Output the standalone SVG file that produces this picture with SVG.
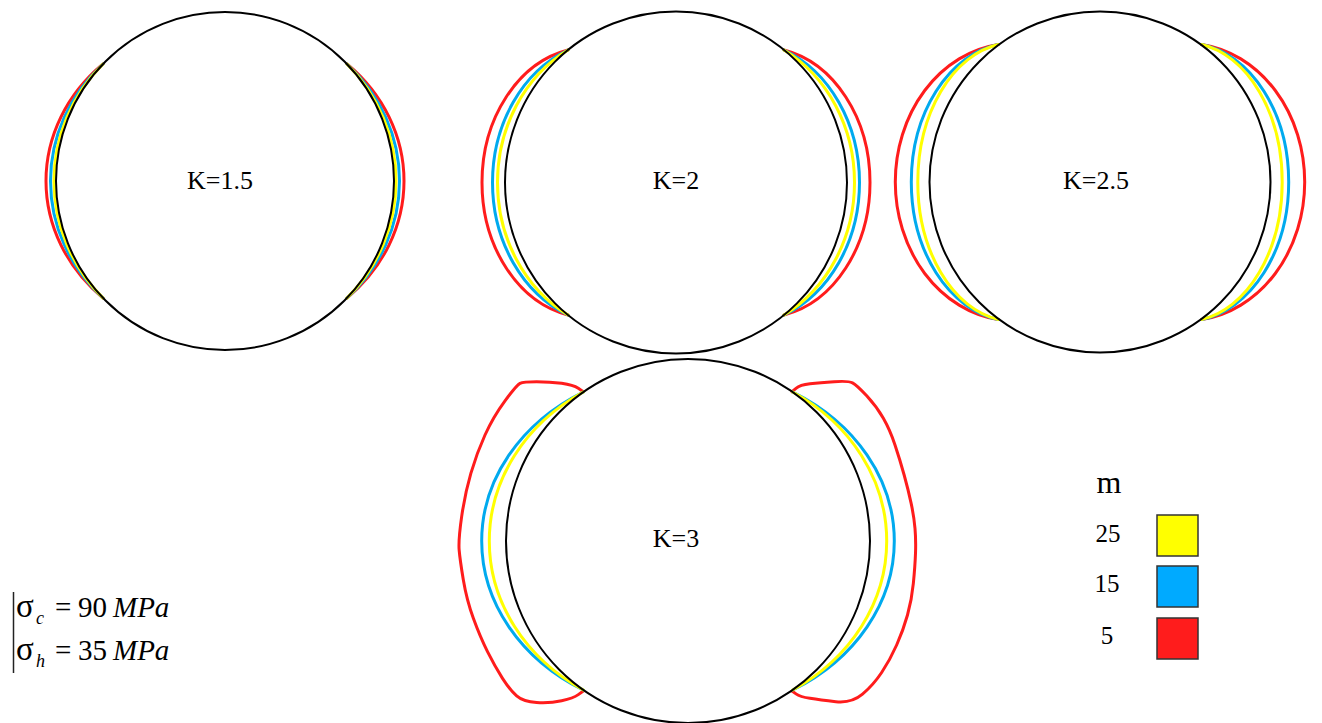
<svg xmlns="http://www.w3.org/2000/svg" width="1322" height="723" viewBox="0 0 1322 723">
<style>
.circ{fill:none;stroke:#000;stroke-width:2}
.r{fill:none;stroke:#FF1C1C;stroke-width:3;stroke-linejoin:round;stroke-linecap:round}
.b{fill:none;stroke:#00AAEE;stroke-width:3;stroke-linecap:round}
.y{fill:none;stroke:#FFFF00;stroke-width:3;stroke-linecap:round}
.lbl{font-family:"Liberation Serif","Times New Roman",serif;font-size:26px;fill:#000;text-anchor:middle}
.leg{font-family:"Liberation Serif","Times New Roman",serif;font-size:25px;fill:#000;text-anchor:middle}
.eq{font-family:"Liberation Serif","Times New Roman",serif;font-size:29px;fill:#000}
.sig{font-family:"Liberation Serif","Times New Roman",serif;font-size:33px;fill:#000}
.sub{font-family:"Liberation Serif","Times New Roman",serif;font-size:18px;font-style:italic;fill:#000}
.box{stroke:#333;stroke-width:1.5}
</style>
<rect x="0" y="0" width="1322" height="723" fill="#fff"/>

<g id="node-k15">
<path class="r" d="M103,64 A179,159.9 0 0 0 46,181 A179,159.9 0 0 0 103,298"/>
<path class="b" d="M103,64 A174.5,163.6 0 0 0 50.5,181 A174.5,163.6 0 0 0 103,298"/>
<path class="y" d="M103,64 A171,167 0 0 0 54,181 A171,167 0 0 0 103,298"/>
<path class="r" d="M347,64 A179,159.9 0 0 1 404,181 A179,159.9 0 0 1 347,298"/>
<path class="b" d="M347,64 A174.5,163.6 0 0 1 399.5,181 A174.5,163.6 0 0 1 347,298"/>
<path class="y" d="M347,64 A171,167 0 0 1 396,181 A171,167 0 0 1 347,298"/>
<circle class="circ" cx="225" cy="181" r="169"/>
<text class="lbl" x="220" y="189">K=1.5</text>
</g>

<g id="node-k2">
<path class="r" d="M568,50 A107.6,135.2 0 0 0 482,182.5 A107.6,135.2 0 0 0 568,315"/>
<path class="b" d="M568,50 A118.7,142.3 0 0 0 492.5,182.5 A118.7,142.3 0 0 0 568,315"/>
<path class="y" d="M568,50 A135.3,150.9 0 0 0 497.5,182.5 A135.3,150.9 0 0 0 568,315"/>
<path class="r" d="M784,50 A107.6,135.2 0 0 1 870,182.5 A107.6,135.2 0 0 1 784,315"/>
<path class="b" d="M784,50 A118.7,142.3 0 0 1 859.5,182.5 A118.7,142.3 0 0 1 784,315"/>
<path class="y" d="M784,50 A135.3,150.9 0 0 1 854.5,182.5 A135.3,150.9 0 0 1 784,315"/>
<circle class="circ" cx="676" cy="182.5" r="171"/>
<text class="lbl" x="676" y="189">K=2</text>
</g>

<g id="node-k25">
<path class="r" d="M998.3,44.5 A118.3,138.7 0 0 0 895.3,182 A118.3,138.7 0 0 0 998.3,319.5"/>
<path class="b" d="M998.3,44.5 A102.3,139.1 0 0 0 911.3,182 A102.3,139.1 0 0 0 998.3,319.5"/>
<path class="y" d="M998.3,44.5 A95.8,139.3 0 0 0 917.8,182 A95.8,139.3 0 0 0 998.3,319.5"/>
<path class="r" d="M1201.7,44.5 A118.3,138.7 0 0 1 1304.7,182 A118.3,138.7 0 0 1 1201.7,319.5"/>
<path class="b" d="M1201.7,44.5 A102.3,139.1 0 0 1 1288.7,182 A102.3,139.1 0 0 1 1201.7,319.5"/>
<path class="y" d="M1201.7,44.5 A95.8,139.3 0 0 1 1282.2,182 A95.8,139.3 0 0 1 1201.7,319.5"/>
<circle class="circ" cx="1100" cy="182" r="170.5"/>
<text class="lbl" x="1096" y="189">K=2.5</text>
</g>

<g id="node-k3">
<path class="r" d="M583.3,391.7 L578.3,388.35 Q573.3,385 561.65,383.35 Q550,381.7 536.65,381.7 Q523.3,381.7 520,383.35 Q516.7,385 505,400.85 Q493.3,416.7 485,435 Q476.7,453.3 470.85,473.3 Q465,493.3 461.65,516.65 Q458.3,540 459.15,550 Q460,560 463.35,580 Q466.7,600 473.35,618.35 Q480,636.7 487.5,651.7 Q495,666.7 502.5,678.35 Q510,690 516.65,695.85 Q523.3,701.7 536.65,702.5 Q550,703.3 561.65,700.8 Q573.3,698.3 578.3,694.65 L583.3,691"/>
<path class="b" d="M583.3,392 A206.3,172.9 0 0 0 481.7,541 A206.3,172.9 0 0 0 583.3,690"/>
<path class="y" d="M583.3,392 A198.7,175.3 0 0 0 489.3,541 A198.7,175.3 0 0 0 583.3,690"/>
<path class="r" d="M792,391.7 L796,388.35 Q800,385 810,383.85 Q820,382.7 834.15,381.7 Q848.3,380.7 852.5,382.85 Q856.7,385 866.7,395.85 Q876.7,406.7 883.35,418.35 Q890,430 895,445 Q900,460 904.15,475 Q908.3,490 911.15,503.35 Q914,516.7 915,528.35 Q916,540 915.5,553.35 Q915,566.7 913.35,583.35 Q911.7,600 907.5,615 Q903.3,630 896.65,645 Q890,660 881.65,672.5 Q873.3,685 862.5,694.15 Q851.7,703.3 835.85,701.65 Q820,700 810,698.35 Q800,696.7 796,693.85 L792,691"/>
<path class="b" d="M792.7,392 A206.3,172.9 0 0 1 894.3,541 A206.3,172.9 0 0 1 792.7,690"/>
<path class="y" d="M792.7,392 A198.7,175.3 0 0 1 886.7,541 A198.7,175.3 0 0 1 792.7,690"/>
<circle class="circ" cx="688" cy="541" r="182"/>
<text class="lbl" x="676" y="547">K=3</text>
</g>

<g id="legend">
<text x="1109" y="493" font-family="Liberation Serif, Times New Roman, serif" font-size="32" text-anchor="middle">m</text>
<text class="leg" x="1108" y="542">25</text>
<text class="leg" x="1107" y="592">15</text>
<text class="leg" x="1107" y="644">5</text>
<rect class="box" x="1157" y="515" width="41" height="41" fill="#FFFF00"/>
<rect class="box" x="1157" y="566" width="41" height="41" fill="#00AAFF"/>
<rect class="box" x="1157" y="618" width="41" height="41" fill="#FF1C1C"/>
</g>

<g id="formula">
<line x1="13.5" y1="592" x2="13.5" y2="673" stroke="#222" stroke-width="1.5"/>
<text class="sig" x="16" y="617">σ</text>
<text class="sub" x="36" y="624">c</text>
<text class="eq" x="55" y="617">=</text>
<text class="eq" x="78" y="617">90</text>
<text class="eq" x="113" y="617" font-style="italic">MPa</text>
<text class="sig" x="16" y="660">σ</text>
<text class="sub" x="36" y="667">h</text>
<text class="eq" x="55" y="660">=</text>
<text class="eq" x="78" y="660">35</text>
<text class="eq" x="113" y="660" font-style="italic">MPa</text>
</g>
</svg>
